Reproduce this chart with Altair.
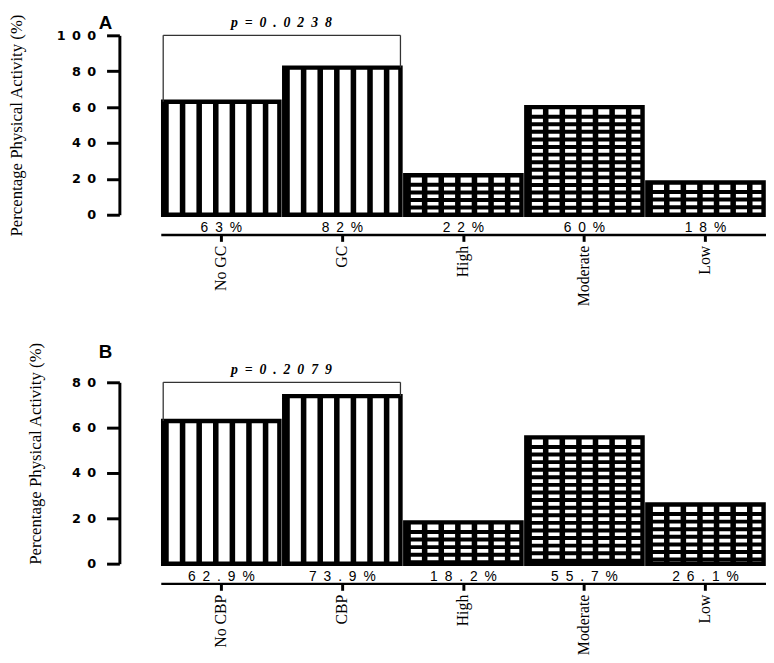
import altair as alt
import pandas as pd

# ---- data ----
cats_a = ["No GC", "GC", "High", "Moderate", "Low"]
vals_a = [63, 82, 22, 60, 18]
labels_a = ["63%", "82%", "22%", "60%", "18%"]
p_a = "p=0.0238"
ymax_a = 100

cats_b = ["No CBP", "CBP", "High", "Moderate", "Low"]
vals_b = [62.9, 73.9, 18.2, 55.7, 26.1]
labels_b = ["62.9%", "73.9%", "18.2%", "55.7%", "26.1%"]
p_b = "p=0.2079"
ymax_b = 80

patterns = ["stripe", "stripe", "grid", "grid", "grid"]

# ---- style ----
N_SUB = 21          # sub-bands per bar for vertical stripes
ROW_PX = 7.7        # grid row period in pixels
LINE_PX = 4.0       # grid row line thickness in pixels
WIDTH = 614
SPACE = "\u2002"


def panel(letter, cats, vals, labels, pval, ymax, height, title_pad, title_y=None):
    ppu = height / ymax
    bars = pd.DataFrame({
        "cat": cats,
        "val": vals,
        "lab": [SPACE.join(list(l)) for l in labels],
    })
    stripes = pd.DataFrame([
        {"cat": c, "val": v, "sub": i}
        for c, v in zip(cats, vals) for i in range(0, N_SUB, 3)
    ])
    step = ROW_PX / ppu
    thick = LINE_PX / ppu
    rows = []
    for c, v, p in zip(cats, vals, patterns):
        if p == "grid":
            k = 1
            while v - k * step > thick * 0.5:
                rows.append({"cat": c, "y1": v - k * step, "y2": v - k * step - thick})
                k += 1
    hl = pd.DataFrame(rows)
    br = pd.DataFrame([{
        "c1": cats[0], "c2": cats[1], "v1": vals[0], "v2": vals[1],
        "top": ymax, "p": SPACE.join(list(pval)),
    }])

    xscale = alt.Scale(domain=cats, paddingInner=0.04, paddingOuter=0.02)
    xaxis = alt.Axis(
        title=None, orient="bottom", offset=20, labelAngle=270,
        labelFont="Liberation Serif", labelFontSize=16, labelColor="black",
        domainWidth=2.5, domainColor="black", tickWidth=3, tickSize=7,
        tickColor="black", labelPadding=4, grid=False, labelOverlap=False,
    )
    ticks = list(range(0, ymax + 1, 20))
    ykw = dict(
        values=ticks, tickCount=len(ticks) + 2,
        title="Percentage Physical Activity (%)",
        titleFont="Liberation Serif", titleFontSize=17, titleFontWeight="normal",
        titleColor="black", titlePadding=title_pad,
        labelFont="DejaVu Sans", labelFontWeight="bold", labelFontSize=13,
        labelColor="black", labelExpr="join(split(datum.label, ''), '\u2002')",
        labelOverlap=False, labelBound=False, labelFlush=False,
        offset=42, domainWidth=3, domainColor="black", tickWidth=3, tickSize=13,
        tickColor="black", labelPadding=11, grid=False,
        minExtent=62, maxExtent=62,
    )
    if title_y is not None:
        ykw["titleY"] = title_y
    yaxis = alt.Axis(**ykw)
    yscale = alt.Scale(domain=[0, ymax], nice=False)

    def X(field="cat", **kw):
        return alt.X(f"{field}:N", sort=cats, scale=xscale, axis=xaxis, **kw)

    def Y(field):
        return alt.Y(f"{field}:Q", scale=yscale, axis=yaxis)

    stripe_layer = alt.Chart(stripes).mark_bar(color="black").encode(
        x=X(),
        xOffset=alt.XOffset("sub:O", scale=alt.Scale(domain=list(range(N_SUB)), paddingInner=0, paddingOuter=0)),
        y=Y("val"),
    )
    grid_layer = alt.Chart(hl).mark_bar(color="black").encode(
        x=X(), y=Y("y1"), y2="y2:Q",
    )
    outline = alt.Chart(bars).mark_bar(fill="white", fillOpacity=0, stroke="black", strokeWidth=4.5).encode(
        x=X(), y=Y("val"),
    )
    pct = alt.Chart(bars).mark_text(font="Liberation Sans", fontSize=14, dy=14, baseline="middle", color="black").encode(
        x=X(), y=Y("zero"), text="lab:N",
    ).transform_calculate(zero="0")
    left = alt.Chart(br).mark_rule(color="#333333", strokeWidth=1.3).encode(
        x=X("c1", bandPosition=0), y=Y("top"), y2="v1:Q",
    )
    right = alt.Chart(br).mark_rule(color="#333333", strokeWidth=1.3).encode(
        x=X("c2", bandPosition=1), y=Y("top"), y2="v2:Q",
    )
    horiz = alt.Chart(br).mark_rule(color="#333333", strokeWidth=1.3).encode(
        x=X("c1", bandPosition=0), x2=alt.X2("c2:N", bandPosition=1), y=Y("top"),
    )
    ptxt = alt.Chart(br).mark_text(
        font="Liberation Serif", fontStyle="italic", fontWeight="bold", fontSize=14,
        dy=-12, dx=2, baseline="middle", color="black",
    ).encode(x=X("c1", bandPosition=1), y=Y("top"), text="p:N")

    return alt.layer(stripe_layer, grid_layer, outline, pct, left, right, horiz, ptxt).properties(
        width=WIDTH, height=height,
        title=alt.TitleParams(letter, anchor="start", frame="group", font="Liberation Sans",
                              fontSize=19, fontWeight="bold", dx=-63, offset=-20, color="black"),
    )


pa = panel("A", cats_a, vals_a, labels_a, p_a, ymax_a, 182, 33)
pb = panel("B", cats_b, vals_b, labels_b, p_b, ymax_b, 184, 14, title_y=72)

chart = alt.vconcat(pa, pb, spacing=170, bounds="flush").properties(
    padding=0, background="white"
).configure_view(stroke=None)

chart.save("out.html", embed_options={"renderer": "svg", "actions": False})
